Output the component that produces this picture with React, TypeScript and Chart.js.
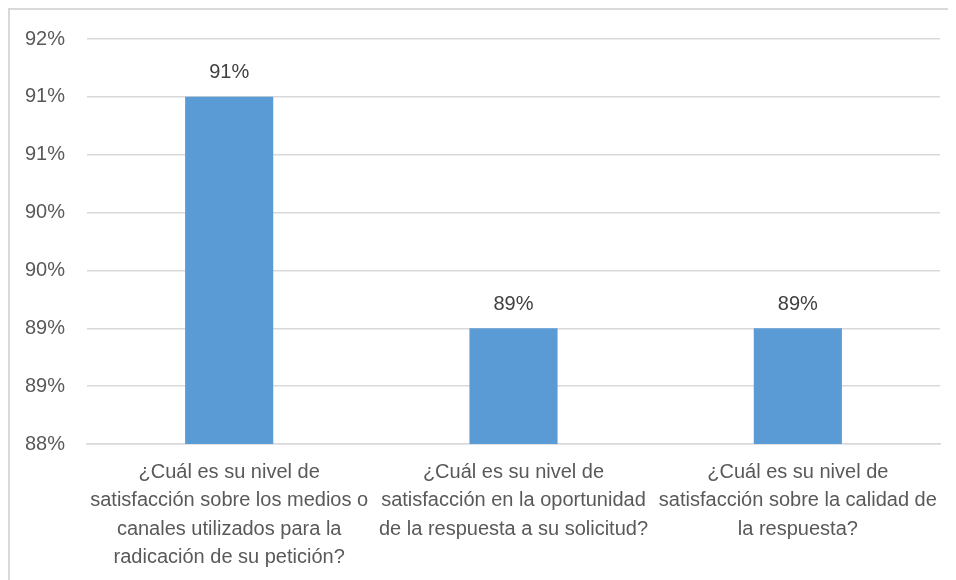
import React, { useEffect, useRef } from "react";
import { Chart, registerables } from "chart.js";

Chart.register(...registerables);

const categories: string[][] = [
  ["¿Cuál es su nivel de", "satisfacción sobre los medios o", "canales utilizados para la", "radicación de su petición?"],
  ["¿Cuál es su nivel de", "satisfacción en la oportunidad", "de la respuesta a su solicitud?"],
  ["¿Cuál es su nivel de", "satisfacción sobre la calidad de", "la respuesta?"],
];
const values: number[] = [0.91, 0.89, 0.89];
const yMin = 0.88;
const yMax = 0.915;
const yStep = 0.005;

const FONT = "'Liberation Sans', Arial, sans-serif";

const pct = (v: number) => Math.round(Math.round(v * 1000) / 10) + "%";

const dataLabels = {
  id: "dataLabels",
  afterDatasetsDraw(chart: any) {
    const ctx = chart.ctx;
    const meta = chart.getDatasetMeta(0);
    ctx.save();
    ctx.font = `20px ${FONT}`;
    ctx.fillStyle = "#404040";
    ctx.textAlign = "center";
    ctx.textBaseline = "middle";
    meta.data.forEach((bar: any, i: number) => {
      ctx.fillText(pct(values[i]), bar.x, bar.y - 24);
    });
    ctx.restore();
  },
};

export default function App() {
  const ref = useRef<HTMLCanvasElement>(null);
  useEffect(() => {
    if (!ref.current) return;
    const chart = new Chart(ref.current, {
      type: "bar",
      data: {
        labels: categories,
        datasets: [
          {
            data: values,
            backgroundColor: "#5b9bd5",
            barPercentage: 0.31,
            categoryPercentage: 1,
          },
        ],
      },
      options: {
        responsive: false,
        animation: false,
        layout: { padding: { top: 29, right: 16, left: 0, bottom: 0 } },
        plugins: { legend: { display: false }, tooltip: { enabled: false } },
        scales: {
          x: {
            grid: { display: false, drawTicks: false },
            border: { color: "#d9d9d9", width: 1.5 },
            ticks: {
              color: "#595959",
              font: { family: FONT, size: 20, lineHeight: 1.42 },
              padding: 14,
              maxRotation: 0,
              autoSkip: false,
            },
            afterFit: (s: any) => {
              s.height = 136;
              s.paddingLeft = 0;
              s.paddingRight = 0;
            },
          },
          y: {
            min: yMin,
            max: yMax,
            grid: { color: "#d9d9d9", lineWidth: 1.5, drawTicks: false },
            border: { display: false },
            ticks: {
              stepSize: yStep,
              color: "#595959",
              font: { family: FONT, size: 20 },
              padding: 22,
              callback: (v: any) => pct(Number(v)),
            },
            afterFit: (s: any) => {
              s.width = 77;
              s.paddingTop = 0;
              s.paddingBottom = 0;
            },
          },
        },
      },
      plugins: [dataLabels],
    });
    return () => chart.destroy();
  }, []);
  return (
    <div
      style={{
        width: 946,
        height: 570,
        borderLeft: "2px solid #d9d9d9",
        borderTop: "2px solid #d9d9d9",
        background: "#fff",
      }}
    >
      <canvas ref={ref} width={946} height={570} style={{ display: "block" }} />
    </div>
  );
}
